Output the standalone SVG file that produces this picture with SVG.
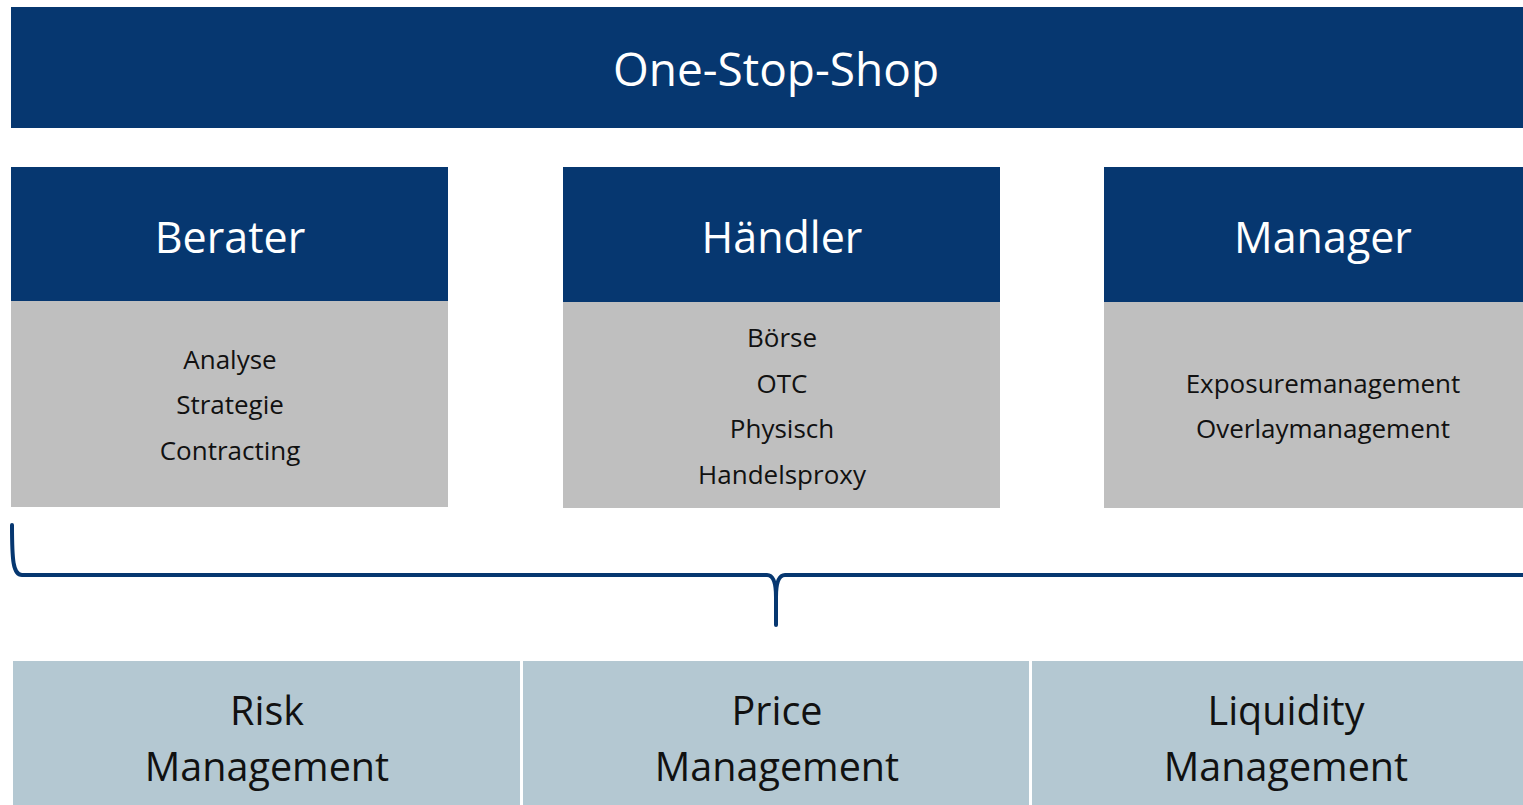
<svg xmlns="http://www.w3.org/2000/svg" width="1523" height="805" viewBox="0 0 1523 805">
<style>
.blue{fill:#063770}
.grey{fill:#BFBFBF}
.lb{fill:#B4C8D2}
text{font-family:"Open Sans","Liberation Sans",sans-serif;text-anchor:middle}
.h{fill:#fff;font-size:46px}
.n{fill:#fff;font-size:43px}
.s{fill:#111;font-size:26px}
.b{fill:#111;font-size:39.5px}
.brace{fill:none;stroke:#063770;stroke-width:4;stroke-linecap:round}
</style>
<rect width="1523" height="805" fill="#fff"/>
<g id="top">
<rect class="blue" x="11" y="7" width="1512" height="121"/>
<text class="h" x="776" y="86">One-Stop-Shop</text>
</g>
<g id="berater">
<rect class="blue" x="11" y="167" width="437" height="134"/>
<rect class="grey" x="11" y="301" width="437" height="206"/>
<text class="n" x="230" y="253">Berater</text>
<text class="s" x="230" y="369">Analyse</text>
<text class="s" x="230" y="414">Strategie</text>
<text class="s" x="230" y="460">Contracting</text>
</g>
<g id="haendler">
<rect class="blue" x="563" y="167" width="437" height="135"/>
<rect class="grey" x="563" y="302" width="437" height="206"/>
<text class="n" x="782" y="253">Händler</text>
<text class="s" x="782" y="347">Börse</text>
<text class="s" x="782" y="393">OTC</text>
<text class="s" x="782" y="438">Physisch</text>
<text class="s" x="782" y="484">Handelsproxy</text>
</g>
<g id="manager">
<rect class="blue" x="1104" y="167" width="419" height="135"/>
<rect class="grey" x="1104" y="302" width="419" height="206"/>
<text class="n" x="1323" y="253">Manager</text>
<text class="s" x="1323" y="393">Exposuremanagement</text>
<text class="s" x="1323" y="438">Overlaymanagement</text>
</g>
<g id="connectors">
<path class="brace" d="M12,525 C12,560 13,575 22,575 L767,575 C772,575 776,580 776,597 L776,625 M776,597 C776,580 780,575 785,575 L1523,575"/>
</g>
<g id="risk">
<rect class="lb" x="13" y="661" width="507" height="144"/>
<text class="b" x="267" y="725">Risk</text>
<text class="b" x="267" y="781">Management</text>
</g>
<g id="price">
<rect class="lb" x="523" y="661" width="506" height="144"/>
<text class="b" x="777" y="725">Price</text>
<text class="b" x="777" y="781">Management</text>
</g>
<g id="liquidity">
<rect class="lb" x="1032" y="661" width="491" height="144"/>
<text class="b" x="1286" y="725">Liquidity</text>
<text class="b" x="1286" y="781">Management</text>
</g>
</svg>
